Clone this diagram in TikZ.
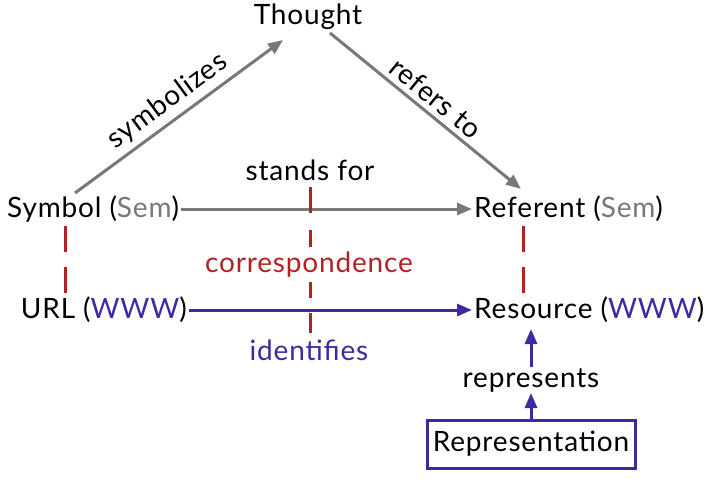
\documentclass[tikz,border=0pt]{standalone}
\usepackage{fontspec}
\setmainfont[LetterSpace=3]{Lato}
\usetikzlibrary{arrows.meta}
\definecolor{cgray}{RGB}{120,120,120}
\definecolor{cred}{RGB}{178,34,34}
\definecolor{cblue}{RGB}{64,40,160}
\begin{document}
\begin{tikzpicture}[x=1pt,y=-1pt,
  every node/.style={font=\fontsize{28}{32}\selectfont, inner sep=2pt},
  lbl/.style={inner sep=1pt},
  garrow/.style={draw=cgray, line width=3pt, -{Triangle[length=15pt,width=12pt]}},
  barrow/.style={draw=cblue, line width=3pt, -{Triangle[length=15pt,width=12pt]}},
  rdash/.style={draw=cred, line width=3pt, dash pattern=on 26pt off 15pt},
  rseg/.style={draw=cred, line width=3pt},
  reprbox/.style={draw=cblue, line width=3pt, minimum width=208pt, minimum height=48pt, inner sep=0pt}
]
\useasboundingbox (0,0) rectangle (714,483);
\node (th) at (308,17) {Thought};
\node[anchor=west] (sym) at (5,209) {Symbol (\textcolor{cgray}{Sem})};
\node[anchor=west] (ref) at (472,209) {Referent (\textcolor{cgray}{Sem})};
\node[anchor=east] (url) at (189,310) {URL (\textcolor{cblue}{WWW})};
\node[anchor=west] (res) at (472,310) {Resource (\textcolor{cblue}{WWW})};
\node (sf) at (310,170) {stands for};
\node[text=cred] (corr) at (309,265) {correspondence};
\node[text=cblue] (ident) at (309,350) {identifies};
\node[reprbox] (repr) at (531,444) {Representation};
\node[fill=white, inner sep=1pt] (rep) at (531,380) {represents};

\coordinate (symtop) at (75,193);
\coordinate (thl) at (283,40);
\coordinate (thr) at (330,33);
\coordinate (reftop) at (521,189);

\draw[garrow] (symtop) -- node[midway, above, sloped, lbl, yshift=4pt] {symbolizes} (thl);
\draw[garrow] (thr) -- node[midway, above, sloped, lbl, yshift=4pt] {refers to} (reftop);
\draw[garrow] (sym.east) -- (ref.west);
\draw[barrow] (url.east) -- (res.west);
\draw[barrow] (repr.north) -- (rep.south);
\draw[barrow] (rep.north) -- (531,329);

\draw[rdash] (65,226) -- (65,294);
\draw[rdash] (523,226) -- (523,294);
\draw[rseg] (310,187) -- (310,213);
\draw[rseg] (310,230) -- (310,247);
\draw[rseg] (310,282) -- (310,298);
\draw[rseg] (310,313) -- (310,333);
\end{tikzpicture}
\end{document}
